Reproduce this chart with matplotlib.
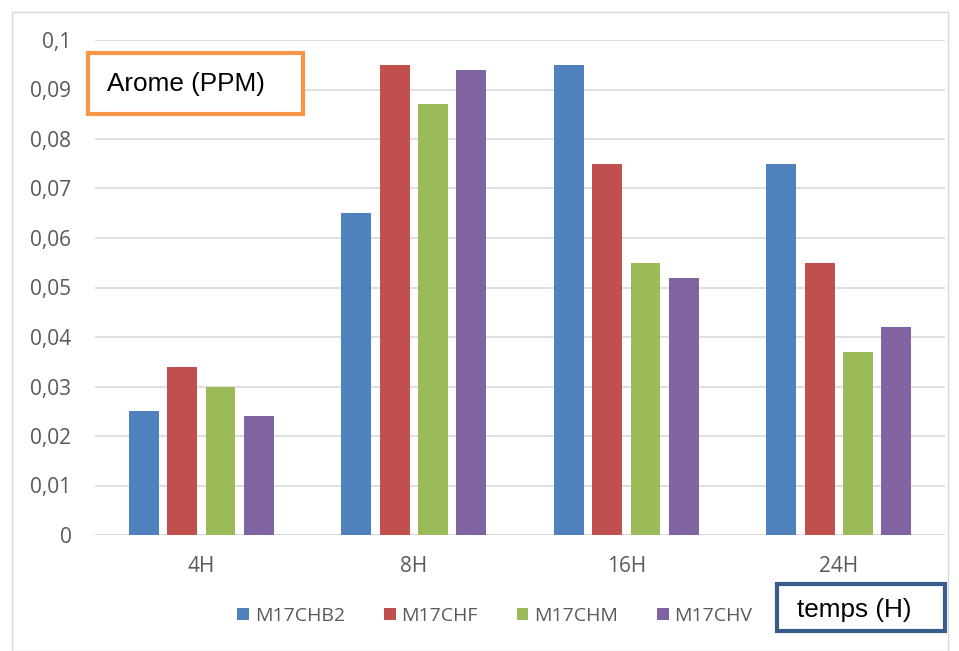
import numpy as np
import matplotlib.pyplot as plt
from matplotlib.patches import Rectangle

plt.rcParams['font.family'] = ['Open Sans', 'DejaVu Sans']

categories = ['4H', '8H', '16H', '24H']
series_names = ['M17CHB2', 'M17CHF', 'M17CHM', 'M17CHV']
b2 = [0.025, 0.065, 0.095, 0.075]
chf = [0.034, 0.095, 0.075, 0.055]
chm = [0.030, 0.087, 0.055, 0.037]
chv = [0.024, 0.094, 0.052, 0.042]
colors = ['#4F81BD', '#C0504D', '#9BBB59', '#8064A2']

W, H = 959, 651
fig = plt.figure(figsize=(W / 100, H / 100), dpi=100)
# plot area in pixels: x 95..945, y 40..535
ax = fig.add_axes([95 / W, 1 - 535 / H, 850 / W, 495 / H])

x = np.arange(len(categories))
width = 0.141
step = 0.181
for i, (vals, name) in enumerate(zip([b2, chf, chm, chv], series_names)):
    ax.bar(x + (i - 1.5) * step, vals, width, color=colors[i], label=name, zorder=3)

ax.set_xlim(-0.5, 3.5)
ax.set_ylim(0, 0.1)
yt = np.arange(0, 0.1001, 0.01)
ax.set_yticks(yt)
ax.set_yticklabels(['0'] + [('%.2f' % v).replace('.', ',').rstrip('0') for v in yt[1:]])
ax.set_xticks(x)
ax.set_xticklabels(categories)
ax.tick_params(axis='both', length=0, colors='#595959', labelsize=15)
ax.tick_params(axis='y', pad=17)
ax.tick_params(axis='x', pad=15)
ax.grid(axis='y', color='#D9D9D9', linewidth=1.2, zorder=0)
for s in ax.spines.values():
    s.set_visible(False)
ax.axhline(0, color='#D9D9D9', linewidth=1.2, zorder=1)

# outer chart frame
fig.patches.append(Rectangle((12 / W, 0), 936 / W, 1 - 12 / H, transform=fig.transFigure,
                             fill=False, edgecolor='#D9D9D9', linewidth=1))

# text boxes
fig.patches.append(Rectangle((88 / W, 1 - 114 / H), 215 / W, 61 / H, transform=fig.transFigure,
                             fill=True, facecolor='white', edgecolor='#F79646', linewidth=3, zorder=5))
fig.text(107 / W, 1 - 84 / H, 'Arome (PPM)', fontsize=18.8, va='center', ha='left', zorder=6,
         family=['Liberation Sans', 'DejaVu Sans'])
fig.patches.append(Rectangle((777 / W, 1 - 631 / H), 168 / W, 47 / H, transform=fig.transFigure,
                             fill=True, facecolor='white', edgecolor='#385D8A', linewidth=3, zorder=5))
fig.text(797 / W, 1 - 610 / H, 'temps (H)', fontsize=18.8, va='center', ha='left', zorder=6,
         family=['Liberation Sans', 'DejaVu Sans'])

fig.legend(loc='center', bbox_to_anchor=(495 / W, 1 - 616 / H), ncol=4, frameon=False,
           fontsize=14, handlelength=0.6, handleheight=0.6, handletextpad=0.3,
           columnspacing=2.0, labelcolor='#595959')

fig.savefig('out.png', dpi=100)
